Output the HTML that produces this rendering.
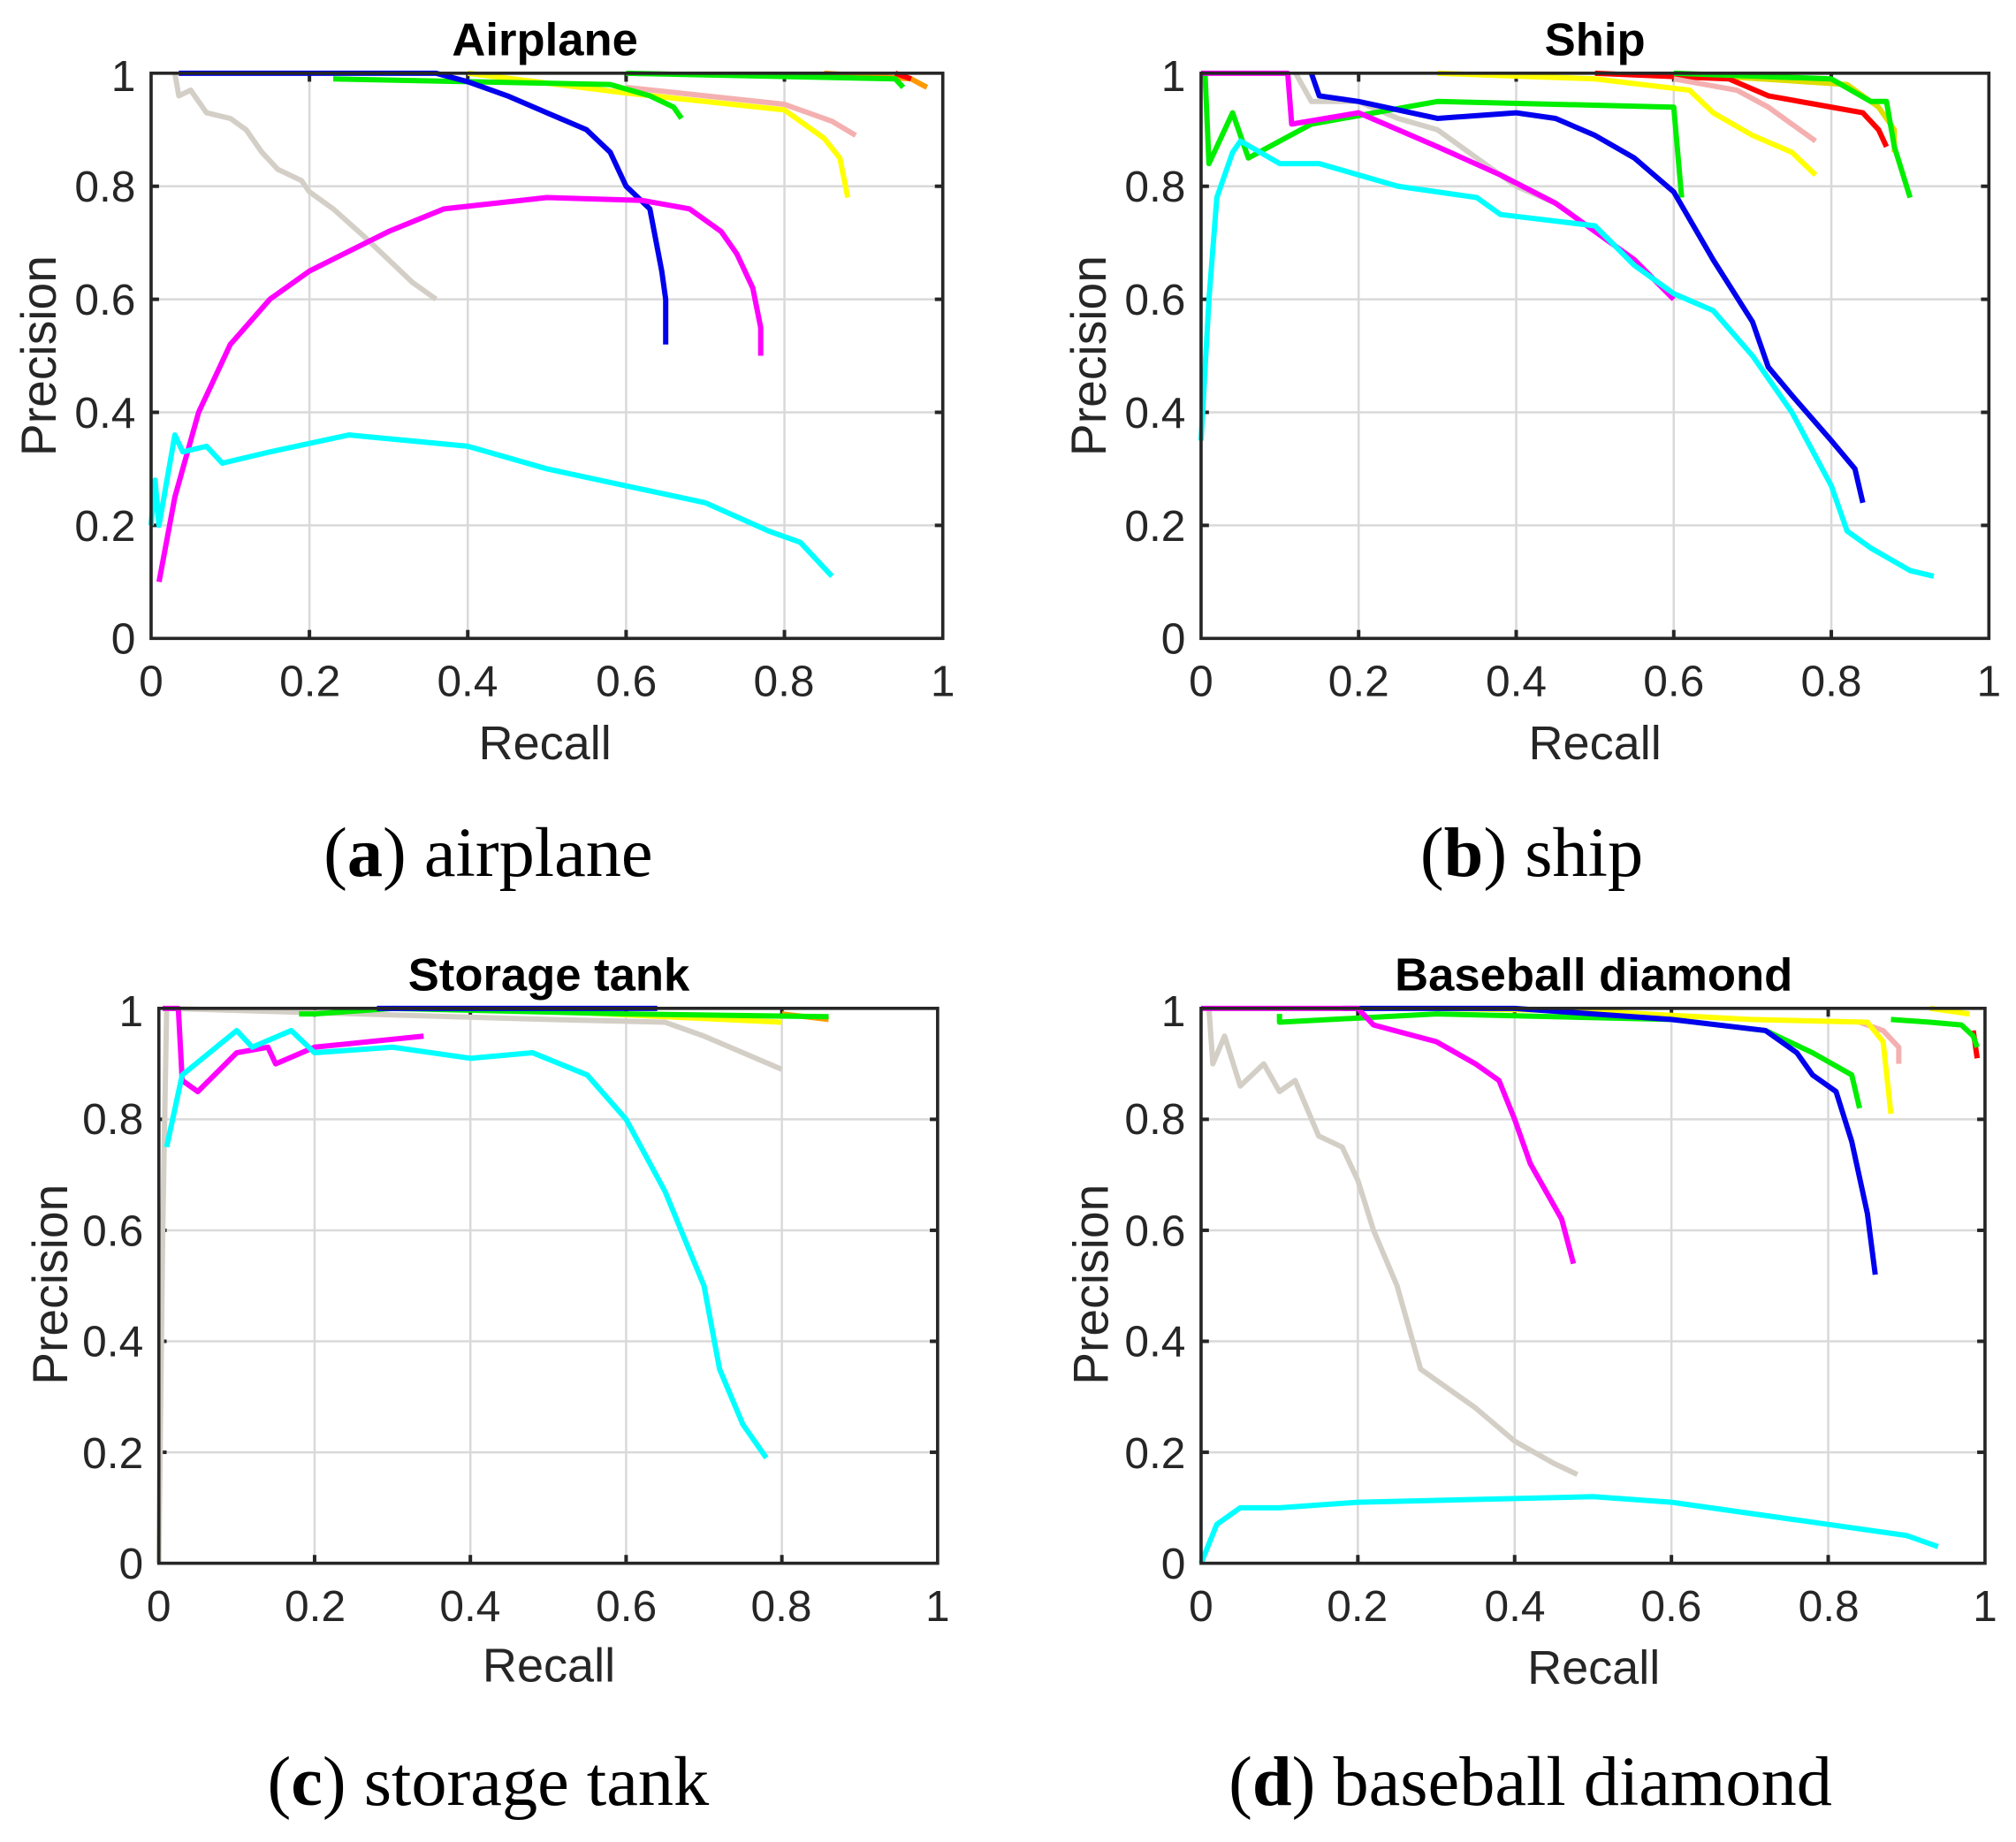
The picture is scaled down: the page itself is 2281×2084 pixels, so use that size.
<!DOCTYPE html>
<html><head><meta charset="utf-8"><style>
html,body{margin:0;padding:0;background:#fff}
svg{display:block}
.t{font-family:"Liberation Sans",sans-serif;fill:#262626}
.cap{font-family:"Liberation Serif",serif;fill:#000;font-size:55px}
.s{fill:none;stroke-width:6;vector-effect:non-scaling-stroke;stroke-linejoin:round}
.g line{stroke:#d9d9d9;stroke-width:2.5;vector-effect:non-scaling-stroke;fill:none}
.k line{stroke:#262626;stroke-width:4;vector-effect:non-scaling-stroke}
</style></head><body>
<svg width="2281" height="2084" viewBox="0 0 1561 1434" preserveAspectRatio="none" xmlns="http://www.w3.org/2000/svg">
<rect width="1561" height="1434" fill="#fff"/>

<!-- Panel A -->
<g>
<text class="t" x="422" y="43" font-size="36" font-weight="bold" text-anchor="middle" style="fill:#000">Airplane</text>
<g transform="translate(117,497) scale(613,-440)">
<g class="g"><line x1="0.2" y1="0" x2="0.2" y2="1"/><line x1="0.4" y1="0" x2="0.4" y2="1"/><line x1="0.6" y1="0" x2="0.6" y2="1"/><line x1="0.8" y1="0" x2="0.8" y2="1"/><line x1="0" y1="0.2" x2="1" y2="0.2"/><line x1="0" y1="0.4" x2="1" y2="0.4"/><line x1="0" y1="0.6" x2="1" y2="0.6"/><line x1="0" y1="0.8" x2="1" y2="0.8"/></g>
<g class="k"><line x1="0.2" y1="0" x2="0.2" y2="0.015"/><line x1="0.4" y1="0" x2="0.4" y2="0.015"/><line x1="0.6" y1="0" x2="0.6" y2="0.015"/><line x1="0.8" y1="0" x2="0.8" y2="0.015"/><line x1="0.2" y1="1" x2="0.2" y2="0.985"/><line x1="0.4" y1="1" x2="0.4" y2="0.985"/><line x1="0.6" y1="1" x2="0.6" y2="0.985"/><line x1="0.8" y1="1" x2="0.8" y2="0.985"/><line x1="0" y1="0.2" x2="0.01" y2="0.2"/><line x1="0" y1="0.4" x2="0.01" y2="0.4"/><line x1="0" y1="0.6" x2="0.01" y2="0.6"/><line x1="0" y1="0.8" x2="0.01" y2="0.8"/><line x1="1" y1="0.2" x2="0.99" y2="0.2"/><line x1="1" y1="0.4" x2="0.99" y2="0.4"/><line x1="1" y1="0.6" x2="0.99" y2="0.6"/><line x1="1" y1="0.8" x2="0.99" y2="0.8"/></g>
<polyline class="s" stroke="#d4cfc6" points="0.03,1 0.035,0.96 0.05,0.97 0.07,0.93 0.1,0.92 0.12,0.9 0.14,0.86 0.16,0.83 0.19,0.81 0.2,0.79 0.23,0.76 0.27,0.71 0.3,0.67 0.33,0.63 0.36,0.6"/>
<polyline class="s" stroke="#f4b0b0" points="0.6,0.975 0.8,0.945 0.86,0.915 0.89,0.89"/>
<polyline class="s" stroke="#ffff00" points="0.4,1 0.6,0.965 0.8,0.935 0.85,0.885 0.87,0.85 0.88,0.78"/>
<polyline class="s" stroke="#ff9900" points="0.85,1 0.96,0.99 0.98,0.975"/>
<polyline class="s" stroke="#00ee00" points="0.23,0.99 0.4,0.985 0.58,0.98 0.63,0.96 0.66,0.94 0.67,0.92"/>
<polyline class="s" stroke="#00ee00" points="0.6,1 0.94,0.99 0.95,0.975"/>
<polyline class="s" stroke="#ff0000" points="0.94,1 0.96,0.99"/>
<polyline class="s" stroke="#0000ee" points="0.035,1 0.36,1 0.4,0.985 0.45,0.96 0.5,0.93 0.55,0.9 0.58,0.86 0.6,0.8 0.63,0.76 0.645,0.65 0.65,0.6 0.65,0.52"/>
<polyline class="s" stroke="#ff00ff" points="0.01,0.1 0.03,0.25 0.06,0.4 0.1,0.52 0.15,0.6 0.2,0.65 0.3,0.72 0.37,0.76 0.5,0.78 0.62,0.775 0.68,0.76 0.72,0.72 0.74,0.68 0.76,0.62 0.77,0.55 0.77,0.5"/>
<polyline class="s" stroke="#00ffff" points="0,0.2 0.005,0.28 0.01,0.2 0.03,0.36 0.04,0.33 0.07,0.34 0.09,0.31 0.15,0.33 0.25,0.36 0.4,0.34 0.5,0.3 0.6,0.27 0.7,0.24 0.78,0.19 0.82,0.17 0.86,0.11"/>
</g>
<rect x="117" y="57" width="613" height="440" fill="none" stroke="#262626" stroke-width="2.5"/>
<g class="t" font-size="34" text-anchor="end"><text x="105" y="509">0</text><text x="105" y="421">0.2</text><text x="105" y="333">0.4</text><text x="105" y="245">0.6</text><text x="105" y="157">0.8</text><text x="105" y="71">1</text></g>
<g class="t" font-size="34" text-anchor="middle"><text x="117" y="542">0</text><text x="240" y="542">0.2</text><text x="362" y="542">0.4</text><text x="485" y="542">0.6</text><text x="607" y="542">0.8</text><text x="730" y="542">1</text></g>
<text class="t" x="422" y="591" font-size="37" text-anchor="middle">Recall</text>
<text class="t" font-size="38" text-anchor="middle" transform="translate(43,277) rotate(-90)">Precision</text>
<text class="cap" x="378" y="682" text-anchor="middle">(<tspan font-weight="bold">a</tspan>) airplane</text>
</g>

<!-- Panel B -->
<g>
<text class="t" x="1235" y="43" font-size="36" font-weight="bold" text-anchor="middle" style="fill:#000">Ship</text>
<g transform="translate(930,497) scale(610,-440)">
<g class="g"><line x1="0.2" y1="0" x2="0.2" y2="1"/><line x1="0.4" y1="0" x2="0.4" y2="1"/><line x1="0.6" y1="0" x2="0.6" y2="1"/><line x1="0.8" y1="0" x2="0.8" y2="1"/><line x1="0" y1="0.2" x2="1" y2="0.2"/><line x1="0" y1="0.4" x2="1" y2="0.4"/><line x1="0" y1="0.6" x2="1" y2="0.6"/><line x1="0" y1="0.8" x2="1" y2="0.8"/></g>
<g class="k"><line x1="0.2" y1="0" x2="0.2" y2="0.015"/><line x1="0.4" y1="0" x2="0.4" y2="0.015"/><line x1="0.6" y1="0" x2="0.6" y2="0.015"/><line x1="0.8" y1="0" x2="0.8" y2="0.015"/><line x1="0.2" y1="1" x2="0.2" y2="0.985"/><line x1="0.4" y1="1" x2="0.4" y2="0.985"/><line x1="0.6" y1="1" x2="0.6" y2="0.985"/><line x1="0.8" y1="1" x2="0.8" y2="0.985"/><line x1="0" y1="0.2" x2="0.01" y2="0.2"/><line x1="0" y1="0.4" x2="0.01" y2="0.4"/><line x1="0" y1="0.6" x2="0.01" y2="0.6"/><line x1="0" y1="0.8" x2="0.01" y2="0.8"/><line x1="1" y1="0.2" x2="0.99" y2="0.2"/><line x1="1" y1="0.4" x2="0.99" y2="0.4"/><line x1="1" y1="0.6" x2="0.99" y2="0.6"/><line x1="1" y1="0.8" x2="0.99" y2="0.8"/></g>
<polyline class="s" stroke="#d4cfc6" points="0.12,1 0.14,0.95 0.2,0.95 0.25,0.92 0.3,0.9 0.35,0.85 0.4,0.8 0.45,0.77"/>
<polyline class="s" stroke="#dddd00" points="0.6,1 0.82,0.98 0.86,0.94 0.88,0.9 0.88,0.86"/>
<polyline class="s" stroke="#ff0000" points="0.5,1 0.67,0.99 0.72,0.96 0.78,0.945 0.84,0.93 0.86,0.9 0.87,0.87"/>
<polyline class="s" stroke="#f4b0b0" points="0.6,0.99 0.68,0.97 0.72,0.94 0.75,0.91 0.78,0.88"/>
<polyline class="s" stroke="#ffff00" points="0.3,1 0.5,0.99 0.62,0.97 0.65,0.93 0.7,0.89 0.75,0.86 0.78,0.82"/>
<polyline class="s" stroke="#00ee00" points="0.6,1 0.8,0.99 0.85,0.95 0.87,0.95 0.88,0.87 0.9,0.78"/>
<polyline class="s" stroke="#00ee00" points="0.005,1 0.01,0.84 0.04,0.93 0.06,0.85 0.14,0.91 0.3,0.95 0.6,0.94 0.61,0.78"/>
<polyline class="s" stroke="#0000ee" points="0.14,1 0.15,0.96 0.2,0.95 0.3,0.92 0.4,0.93 0.45,0.92 0.5,0.89 0.55,0.85 0.6,0.79 0.65,0.67 0.7,0.56 0.72,0.48 0.75,0.43 0.8,0.35 0.83,0.3 0.84,0.24"/>
<polyline class="s" stroke="#ff00ff" points="0,1 0.11,1 0.115,0.91 0.2,0.93 0.25,0.9 0.3,0.87 0.38,0.82 0.45,0.77 0.5,0.72 0.55,0.67 0.6,0.6"/>
<polyline class="s" stroke="#00ffff" points="0,0.35 0.01,0.6 0.02,0.78 0.04,0.86 0.05,0.88 0.1,0.84 0.15,0.84 0.2,0.82 0.25,0.8 0.35,0.78 0.38,0.75 0.5,0.73 0.55,0.66 0.6,0.61 0.65,0.58 0.7,0.5 0.75,0.4 0.8,0.27 0.82,0.19 0.85,0.16 0.9,0.12 0.93,0.11"/>
</g>
<rect x="930" y="57" width="610" height="440" fill="none" stroke="#262626" stroke-width="2.5"/>
<g class="t" font-size="34" text-anchor="end"><text x="918" y="509">0</text><text x="918" y="421">0.2</text><text x="918" y="333">0.4</text><text x="918" y="245">0.6</text><text x="918" y="157">0.8</text><text x="918" y="71">1</text></g>
<g class="t" font-size="34" text-anchor="middle"><text x="930" y="542">0</text><text x="1052" y="542">0.2</text><text x="1174" y="542">0.4</text><text x="1296" y="542">0.6</text><text x="1418" y="542">0.8</text><text x="1540" y="542">1</text></g>
<text class="t" x="1235" y="591" font-size="37" text-anchor="middle">Recall</text>
<text class="t" font-size="38" text-anchor="middle" transform="translate(856,277) rotate(-90)">Precision</text>
<text class="cap" x="1186" y="682" text-anchor="middle">(<tspan font-weight="bold">b</tspan>) ship</text>
</g>

<!-- Panel C -->
<g>
<text class="t" x="425" y="771" font-size="36" font-weight="bold" text-anchor="middle" style="fill:#000">Storage tank</text>
<g transform="translate(123,1217) scale(603,-432)">
<g class="g"><line x1="0.2" y1="0" x2="0.2" y2="1"/><line x1="0.4" y1="0" x2="0.4" y2="1"/><line x1="0.6" y1="0" x2="0.6" y2="1"/><line x1="0.8" y1="0" x2="0.8" y2="1"/><line x1="0" y1="0.2" x2="1" y2="0.2"/><line x1="0" y1="0.4" x2="1" y2="0.4"/><line x1="0" y1="0.6" x2="1" y2="0.6"/><line x1="0" y1="0.8" x2="1" y2="0.8"/></g>
<g class="k"><line x1="0.2" y1="0" x2="0.2" y2="0.015"/><line x1="0.4" y1="0" x2="0.4" y2="0.015"/><line x1="0.6" y1="0" x2="0.6" y2="0.015"/><line x1="0.8" y1="0" x2="0.8" y2="0.015"/><line x1="0.2" y1="1" x2="0.2" y2="0.985"/><line x1="0.4" y1="1" x2="0.4" y2="0.985"/><line x1="0.6" y1="1" x2="0.6" y2="0.985"/><line x1="0.8" y1="1" x2="0.8" y2="0.985"/><line x1="0" y1="0.2" x2="0.01" y2="0.2"/><line x1="0" y1="0.4" x2="0.01" y2="0.4"/><line x1="0" y1="0.6" x2="0.01" y2="0.6"/><line x1="0" y1="0.8" x2="0.01" y2="0.8"/><line x1="1" y1="0.2" x2="0.99" y2="0.2"/><line x1="1" y1="0.4" x2="0.99" y2="0.4"/><line x1="1" y1="0.6" x2="0.99" y2="0.6"/><line x1="1" y1="0.8" x2="0.99" y2="0.8"/></g>
<polyline class="s" stroke="#d4cfc6" points="0,0 0.005,0.6 0.01,1 0.5,0.98 0.65,0.975 0.7,0.95 0.75,0.92 0.8,0.89"/>
<polyline class="s" stroke="#ffff00" points="0.5,0.995 0.8,0.975"/>
<polyline class="s" stroke="#ff9900" points="0.8,0.99 0.86,0.98"/>
<polyline class="s" stroke="#00ee00" points="0.18,0.99 0.2,0.99 0.3,1 0.6,0.99 0.86,0.985"/>
<polyline class="s" stroke="#0000ee" points="0.28,1 0.64,1"/>
<polyline class="s" stroke="#ff00ff" points="0.005,1 0.025,1 0.03,0.87 0.05,0.85 0.1,0.92 0.14,0.93 0.15,0.9 0.2,0.93 0.34,0.95"/>
<polyline class="s" stroke="#00ffff" points="0.01,0.75 0.03,0.88 0.1,0.96 0.12,0.93 0.17,0.96 0.2,0.92 0.3,0.93 0.4,0.91 0.48,0.92 0.55,0.88 0.6,0.8 0.65,0.67 0.7,0.5 0.72,0.35 0.75,0.25 0.78,0.19"/>
</g>
<rect x="123" y="785" width="603" height="432" fill="none" stroke="#262626" stroke-width="2.5"/>
<g class="t" font-size="34" text-anchor="end"><text x="111" y="1229">0</text><text x="111" y="1143">0.2</text><text x="111" y="1056">0.4</text><text x="111" y="970">0.6</text><text x="111" y="883">0.8</text><text x="111" y="799">1</text></g>
<g class="t" font-size="34" text-anchor="middle"><text x="123" y="1262">0</text><text x="244" y="1262">0.2</text><text x="364" y="1262">0.4</text><text x="485" y="1262">0.6</text><text x="605" y="1262">0.8</text><text x="726" y="1262">1</text></g>
<text class="t" x="425" y="1309" font-size="37" text-anchor="middle">Recall</text>
<text class="t" font-size="38" text-anchor="middle" transform="translate(52,1000) rotate(-90)">Precision</text>
<text class="cap" x="378" y="1405" text-anchor="middle">(<tspan font-weight="bold">c</tspan>) storage tank</text>
</g>

<!-- Panel D -->
<g>
<text class="t" x="1234" y="771" font-size="36" font-weight="bold" text-anchor="middle" style="fill:#000">Baseball diamond</text>
<g transform="translate(930,1217) scale(607,-432)">
<g class="g"><line x1="0.2" y1="0" x2="0.2" y2="1"/><line x1="0.4" y1="0" x2="0.4" y2="1"/><line x1="0.6" y1="0" x2="0.6" y2="1"/><line x1="0.8" y1="0" x2="0.8" y2="1"/><line x1="0" y1="0.2" x2="1" y2="0.2"/><line x1="0" y1="0.4" x2="1" y2="0.4"/><line x1="0" y1="0.6" x2="1" y2="0.6"/><line x1="0" y1="0.8" x2="1" y2="0.8"/></g>
<g class="k"><line x1="0.2" y1="0" x2="0.2" y2="0.015"/><line x1="0.4" y1="0" x2="0.4" y2="0.015"/><line x1="0.6" y1="0" x2="0.6" y2="0.015"/><line x1="0.8" y1="0" x2="0.8" y2="0.015"/><line x1="0.2" y1="1" x2="0.2" y2="0.985"/><line x1="0.4" y1="1" x2="0.4" y2="0.985"/><line x1="0.6" y1="1" x2="0.6" y2="0.985"/><line x1="0.8" y1="1" x2="0.8" y2="0.985"/><line x1="0" y1="0.2" x2="0.01" y2="0.2"/><line x1="0" y1="0.4" x2="0.01" y2="0.4"/><line x1="0" y1="0.6" x2="0.01" y2="0.6"/><line x1="0" y1="0.8" x2="0.01" y2="0.8"/><line x1="1" y1="0.2" x2="0.99" y2="0.2"/><line x1="1" y1="0.4" x2="0.99" y2="0.4"/><line x1="1" y1="0.6" x2="0.99" y2="0.6"/><line x1="1" y1="0.8" x2="0.99" y2="0.8"/></g>
<polyline class="s" stroke="#d4cfc6" points="0.01,1 0.015,0.9 0.03,0.95 0.05,0.86 0.08,0.9 0.1,0.85 0.12,0.87 0.15,0.77 0.18,0.75 0.2,0.69 0.22,0.6 0.25,0.5 0.28,0.35 0.35,0.28 0.4,0.22 0.45,0.18 0.48,0.16"/>
<polyline class="s" stroke="#f4b0b0" points="0.84,0.975 0.87,0.96 0.89,0.93 0.89,0.9"/>
<polyline class="s" stroke="#ffff00" points="0.3,1 0.5,0.995 0.7,0.98 0.85,0.975 0.87,0.94 0.88,0.81"/>
<polyline class="s" stroke="#ffff00" points="0.93,1 0.98,0.99"/>
<polyline class="s" stroke="#ff0000" points="0.985,0.96 0.99,0.91"/>
<polyline class="s" stroke="#00ee00" points="0.88,0.98 0.93,0.975 0.97,0.97 0.985,0.95 0.99,0.93"/>
<polyline class="s" stroke="#00ee00" points="0.1,0.99 0.1,0.975 0.3,0.99 0.6,0.98 0.72,0.96 0.78,0.92 0.83,0.88 0.84,0.82"/>
<polyline class="s" stroke="#0000ee" points="0.18,1 0.4,1 0.6,0.98 0.72,0.96 0.76,0.92 0.78,0.88 0.81,0.85 0.83,0.76 0.85,0.63 0.86,0.52"/>
<polyline class="s" stroke="#ff00ff" points="0,1 0.2,1 0.22,0.97 0.3,0.94 0.35,0.9 0.38,0.87 0.4,0.8 0.42,0.72 0.44,0.67 0.46,0.62 0.475,0.54"/>
<polyline class="s" stroke="#00ffff" points="0,0 0.02,0.07 0.05,0.1 0.1,0.1 0.2,0.11 0.5,0.12 0.6,0.11 0.8,0.07 0.9,0.05 0.94,0.03"/>
</g>
<rect x="930" y="785" width="607" height="432" fill="none" stroke="#262626" stroke-width="2.5"/>
<g class="t" font-size="34" text-anchor="end"><text x="918" y="1229">0</text><text x="918" y="1143">0.2</text><text x="918" y="1056">0.4</text><text x="918" y="970">0.6</text><text x="918" y="883">0.8</text><text x="918" y="799">1</text></g>
<g class="t" font-size="34" text-anchor="middle"><text x="930" y="1262">0</text><text x="1051" y="1262">0.2</text><text x="1173" y="1262">0.4</text><text x="1294" y="1262">0.6</text><text x="1416" y="1262">0.8</text><text x="1537" y="1262">1</text></g>
<text class="t" x="1234" y="1311" font-size="37" text-anchor="middle">Recall</text>
<text class="t" font-size="38" text-anchor="middle" transform="translate(858,1000) rotate(-90)">Precision</text>
<text class="cap" x="1185" y="1405" text-anchor="middle">(<tspan font-weight="bold">d</tspan>) baseball diamond</text>
</g>
</svg>
</body></html>
